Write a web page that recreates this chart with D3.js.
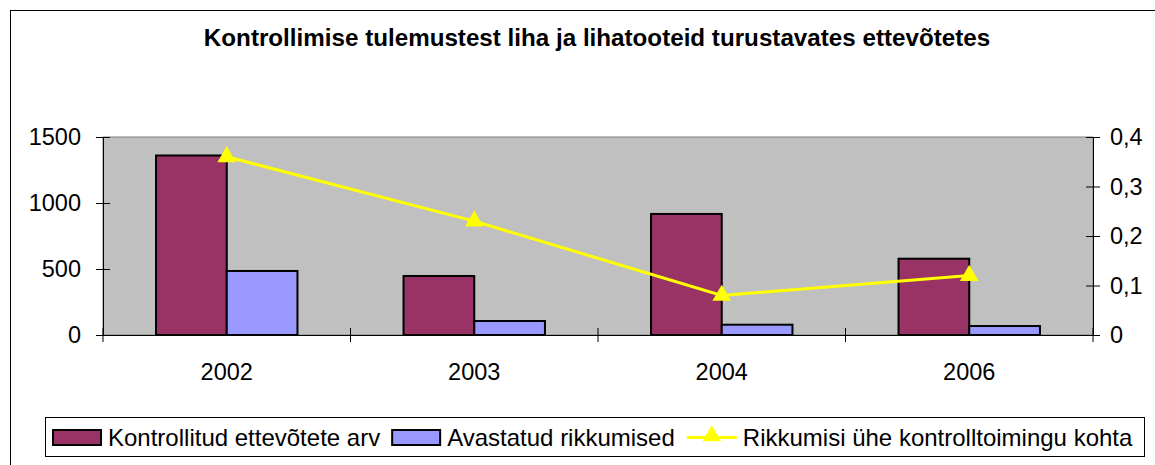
<!DOCTYPE html>
<html>
<head>
<meta charset="utf-8">
<script src="https://cdn.jsdelivr.net/npm/d3@7"></script>
<style>
  body { margin: 0; background: #fff; }
  svg { display: block; font-family: "Liberation Sans", Arial, sans-serif; }
</style>
</head>
<body>
<svg id="chart" width="1155" height="465"></svg>
<script>
// data
const years = ['2002', '2003', '2004', '2006']
const kontrollitud = [1360, 447, 917, 578]
const rikkumised = [485, 106, 78, 68]
const rikkumisiKohta = [0.36, 0.23, 0.08, 0.12]
const leftTicks = [0, 500, 1000, 1500]
const rightTicks = [0, 0.1, 0.2, 0.3, 0.4]
const seriesNames = ['Kontrollitud ettevõtete arv', 'Avastatud rikkumised', 'Rikkumisi ühe kontrolltoimingu kohta']

const plot = {left: 103, right: 1093, top: 137, bottom: 335}
const colors = ['#993366', '#9999FF', '#FFFF00']
const FONT = '23.5px "Liberation Sans", Arial, sans-serif'
const LEGEND_FONT = '24px "Liberation Sans", Arial, sans-serif'

var svg = d3.select('#chart')

// outer chart border
svg.append('rect')
  .attr('x', 10.5).attr('y', 10.5)
  .attr('width', 1200).attr('height', 500)
  .attr('fill', '#fff').attr('stroke', '#000').attr('stroke-width', 1)

svg.append('text')
  .attr('x', 597).attr('y', 46)
  .attr('text-anchor', 'middle')
  .style('font', 'bold 24.2px "Liberation Sans", Arial, sans-serif')
  .text('Kontrollimise tulemustest liha ja lihatooteid turustavates ettevõtetes')

const x = d3.scaleBand().domain(years).range([plot.left, plot.right])
const y = d3.scaleLinear().domain([0, 1500]).range([plot.bottom, plot.top])
const y2 = d3.scaleLinear().domain([0, 0.4]).range([plot.bottom, plot.top])

// plot area
svg.append('rect')
  .attr('x', plot.left).attr('y', plot.top)
  .attr('width', plot.right - plot.left).attr('height', plot.bottom - plot.top)
  .attr('fill', '#C0C0C0').attr('stroke', '#808080').attr('stroke-width', 1)

// bars
const barW = x.bandwidth() / 3.5
const groupOff = (x.bandwidth() - 2 * barW) / 2
const barSeries = [kontrollitud, rikkumised]
barSeries.forEach(function(vals, si) {
  svg.append('g').selectAll('rect')
    .data(vals)
    .enter()
    .append('rect')
    .attr('x', (d, i) => x(years[i]) + groupOff + si * barW)
    .attr('y', d => y(d))
    .attr('width', barW)
    .attr('height', d => plot.bottom - y(d))
    .attr('fill', colors[si])
    .attr('stroke', '#000')
    .attr('stroke-width', 2)
})

// axes
const fmtRight = d => d === 0 ? '0' : d3.format('.1f')(d).replace('.', ',')
const axL = svg.append('g')
  .attr('transform', 'translate(' + plot.left + ',0)')
  .call(d3.axisLeft(y).tickValues(leftTicks).tickFormat(d3.format('d')).tickSizeInner(7).tickSizeOuter(0).tickPadding(15))
axL.selectAll('.tick line').attr('x2', -7).attr('x1', 7)
const axR = svg.append('g')
  .attr('transform', 'translate(' + plot.right + ',0)')
  .call(d3.axisRight(y2).tickValues(rightTicks).tickFormat(fmtRight).tickSizeInner(7).tickSizeOuter(0).tickPadding(10))
axR.selectAll('.tick line').attr('x1', -7)
const axB = svg.append('g')
  .attr('transform', 'translate(0,' + plot.bottom + ')')
  .call(d3.axisBottom(x).tickSize(0).tickPadding(28))
// category boundary ticks
axB.selectAll('.boundary')
  .data(years.concat(['end']))
  .enter()
  .append('line')
  .attr('x1', (d, i) => plot.left + i * x.bandwidth())
  .attr('x2', (d, i) => plot.left + i * x.bandwidth())
  .attr('y1', -7).attr('y2', 7)
  .attr('stroke', '#000')
;[axL, axR, axB].forEach(function(a) {
  a.select('.domain').attr('stroke', '#000')
  a.selectAll('text').style('font', FONT).attr('fill', '#000')
})
axB.selectAll('.tick text').attr('dy', '0.71em')

// line series on right axis
const line = d3.line()
  .x((d, i) => x(years[i]) + x.bandwidth() / 2)
  .y(d => y2(d))
svg.append('path')
  .datum(rikkumisiKohta)
  .attr('d', line)
  .attr('fill', 'none')
  .attr('stroke', colors[2])
  .attr('stroke-width', 3)
const tri = d3.symbol().type(d3.symbolTriangle).size(150)
svg.append('g').selectAll('path')
  .data(rikkumisiKohta)
  .enter()
  .append('path')
  .attr('d', tri)
  .attr('transform', (d, i) => 'translate(' + (x(years[i]) + x.bandwidth() / 2) + ',' + y2(d) + ')')
  .attr('fill', colors[2])

// legend
const legend = svg.append('g')
legend.append('rect')
  .attr('x', 45.5).attr('y', 417.5)
  .attr('width', 1099).attr('height', 39)
  .attr('fill', '#fff').attr('stroke', '#000')
let lx = 53
seriesNames.forEach(function(name, i) {
  let tx = lx + 55
  if (i < 2) {
    legend.append('rect')
      .attr('x', lx).attr('y', 430)
      .attr('width', 48).attr('height', 15)
      .attr('fill', colors[i]).attr('stroke', '#000').attr('stroke-width', 2)
  } else {
    legend.append('line')
      .attr('x1', lx).attr('x2', lx + 50)
      .attr('y1', 437.5).attr('y2', 437.5)
      .attr('stroke', colors[2]).attr('stroke-width', 3)
    legend.append('path')
      .attr('d', tri)
      .attr('transform', 'translate(' + (lx + 25) + ',436)')
      .attr('fill', colors[2])
    tx = lx + 56
  }
  const t = legend.append('text')
    .attr('x', tx).attr('y', 445.5)
    .style('font', LEGEND_FONT)
    .text(name)
  lx = tx + t.node().getComputedTextLength() + 12
})
</script>
</body>
</html>
